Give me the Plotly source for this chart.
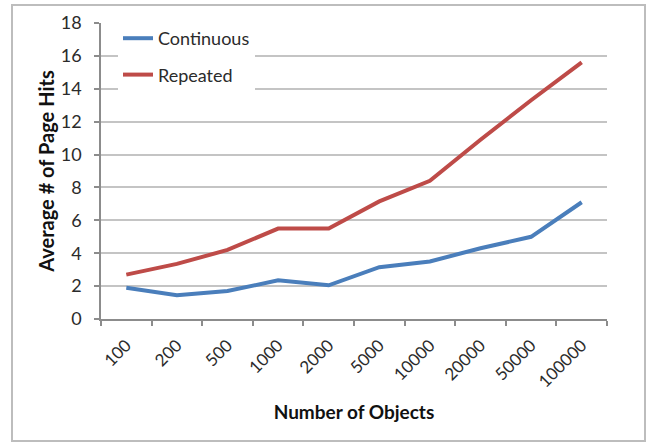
import plotly.graph_objects as go

# Number of objects (categorical x-axis)
objects = ["100", "200", "500", "1000", "2000", "5000", "10000", "20000", "50000", "100000"]

# Average number of page hits per access pattern
continuous = [1.9, 1.45, 1.7, 2.35, 2.05, 3.15, 3.5, 4.3, 5.0, 7.1]
repeated = [2.7, 3.35, 4.2, 5.5, 5.5, 7.15, 8.4, 10.9, 13.3, 15.6]

W, H = 649, 444
ML, MR, MT, MB = 101, 42, 23, 125
PW, PH = W - ML - MR, H - MT - MB

FONT = "Lato"
TEXT = "#2b2b2b"
AXIS = "#8c8c8c"
GRID = "#c4c4c4"

fig = go.Figure()
fig.add_trace(go.Scatter(
    x=objects, y=continuous, name="Continuous", mode="lines",
    line=dict(color="#4a7ebb", width=4), legendgroup="c",
))
fig.add_trace(go.Scatter(
    x=objects, y=repeated, name="Repeated", mode="lines",
    line=dict(color="#be4b48", width=4), legendgroup="r",
))

# light frame around the whole chart
fig.add_shape(
    type="rect", xref="paper", yref="paper",
    x0=(12 - ML) / PW, x1=(645 - ML) / PW,
    y0=(H - MB - 441) / PH, y1=(H - MB - 5) / PH,
    line=dict(color="#bdbdbd", width=2), fillcolor="rgba(0,0,0,0)", layer="below",
)

fig.update_layout(
    width=W, height=H,
    margin=dict(l=ML, r=MR, t=MT, b=MB),
    paper_bgcolor="white", plot_bgcolor="white",
    font=dict(family=FONT, size=17, color=TEXT),
    showlegend=True,
    legend=dict(
        x=(118 - ML) / PW, y=1 + 3 / PH, xanchor="left", yanchor="top",
        bgcolor="white", font=dict(family=FONT, size=18, color=TEXT),
        tracegroupgap=10, itemwidth=30,
    ),
    xaxis=dict(
        type="category", range=[-0.5, 9.5],
        showgrid=False, showline=True, linecolor=AXIS, linewidth=1.5,
        ticks="outside", tickson="boundaries", ticklen=5, tickcolor=AXIS, tickwidth=1.5,
        tickangle=-45, ticklabelstandoff=8,
        tickfont=dict(family=FONT, size=17, color=TEXT),
        title=dict(text="<b>Number of Objects</b>", font=dict(family=FONT, size=19, color="#111"), standoff=15),
    ),
    yaxis=dict(
        range=[0, 18], dtick=2, tick0=0,
        showgrid=True, gridcolor=GRID, gridwidth=1.5,
        showline=True, linecolor=AXIS, linewidth=1.5,
        ticks="outside", ticklen=5, tickcolor=AXIS, tickwidth=1.5,
        ticklabelstandoff=9,
        tickfont=dict(family=FONT, size=18, color=TEXT),
        zeroline=False,
        title=dict(text="<b>Average # of Page Hits</b>", font=dict(family=FONT, size=20, color="#111"), standoff=1),
    ),
)

fig.write_html("out.html")
